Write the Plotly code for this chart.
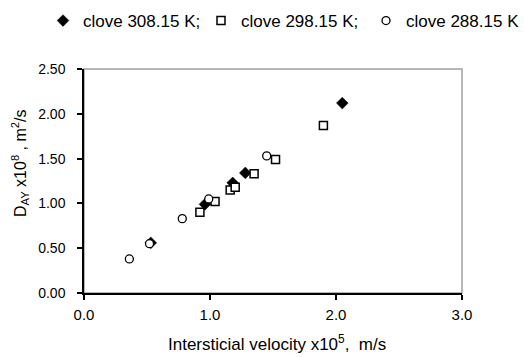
import plotly.graph_objects as go

# Data
x_308 = [0.53, 0.96, 1.18, 1.28, 2.05]
y_308 = [0.56, 0.99, 1.23, 1.34, 2.12]

x_298 = [0.92, 1.04, 1.16, 1.20, 1.35, 1.52, 1.90]
y_298 = [0.90, 1.02, 1.15, 1.18, 1.33, 1.49, 1.87]

x_288 = [0.36, 0.52, 0.78, 0.99, 1.45]
y_288 = [0.38, 0.55, 0.83, 1.05, 1.53]

names = ["clove 308.15 K;", "clove 298.15 K;", "clove 288.15 K"]
x_ticks = [0.0, 1.0, 2.0, 3.0]
y_ticks = [0.0, 0.5, 1.0, 1.5, 2.0, 2.5]

FONT = "Liberation Sans, Arial, sans-serif"

fig = go.Figure()
fig.add_trace(go.Scatter(
    x=x_308, y=y_308, mode="markers", name=names[0], legend="legend",
    marker=dict(symbol="diamond", size=9, color="black",
                line=dict(color="black", width=0.5))))
fig.add_trace(go.Scatter(
    x=x_298, y=y_298, mode="markers", name=names[1], legend="legend2",
    marker=dict(symbol="square", size=8, color="white",
                line=dict(color="black", width=1.5))))
fig.add_trace(go.Scatter(
    x=x_288, y=y_288, mode="markers", name=names[2], legend="legend3",
    marker=dict(symbol="circle", size=8, color="white",
                line=dict(color="black", width=1.3))))


def legend_at(left_px):
    return dict(
        orientation="h", xref="paper", yref="paper",
        x=(left_px - 84) / 378, xanchor="left",
        y=(293 - 21) / 224, yanchor="middle",
        font=dict(size=17, family=FONT),
        bgcolor="rgba(0,0,0,0)", borderwidth=0, itemwidth=30,
    )


fig.update_layout(
    width=524, height=357,
    margin=dict(l=84, r=62, t=69, b=64, autoexpand=False),
    paper_bgcolor="white", plot_bgcolor="white",
    font=dict(family=FONT, color="black"),
    showlegend=True,
    legend=legend_at(43),
    legend2=legend_at(201),
    legend3=legend_at(366),
    xaxis=dict(
        range=[0, 3], tickvals=x_ticks, tickformat=".1f",
        ticks="outside", ticklen=5, tickwidth=1.5, tickcolor="black",
        showline=True, linecolor="black", linewidth=1.5,
        showgrid=False, zeroline=False,
        tickfont=dict(size=15, family=FONT), ticklabelstandoff=2,
    ),
    yaxis=dict(
        range=[0, 2.5], tickvals=y_ticks, tickformat=".2f",
        ticks="outside", ticklen=5, tickwidth=1.5, tickcolor="black",
        showline=True, linecolor="black", linewidth=1.5,
        showgrid=False, zeroline=False,
        tickfont=dict(size=14, family=FONT), ticklabelstandoff=9,
    ),
    shapes=[dict(type="rect", xref="paper", yref="paper",
                 x0=0, x1=1, y0=0, y1=1, layer="below",
                 line=dict(color="#a0a0a0", width=1.5))],
    annotations=[
        dict(text="Intersticial velocity x10<sup>5</sup>,  m/s",
             xref="paper", yref="paper", x=0.51, y=(293 - 343) / 224,
             xanchor="center", yanchor="middle", showarrow=False,
             font=dict(size=17, family=FONT)),
        dict(text="D<sub>AY</sub> x10<sup>8</sup> , m<sup>2</sup>/s",
             xref="paper", yref="paper", x=(20 - 84) / 378,
             y=(293 - 163) / 224, textangle=-90,
             xanchor="center", yanchor="middle", showarrow=False,
             font=dict(size=16, family=FONT)),
    ],
)

fig.write_html(
    "out.html",
    config={"displayModeBar": False},
    post_script="document.body.style.margin='0';document.body.style.overflow='hidden';",
)
